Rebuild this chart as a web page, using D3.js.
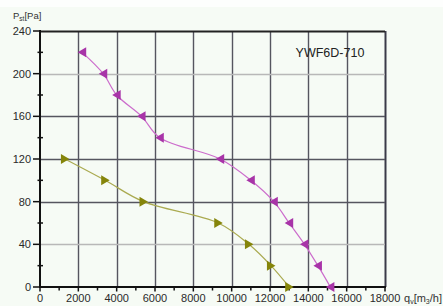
<!DOCTYPE html>
<html>
<head>
<meta charset="utf-8">
<script src="https://cdn.jsdelivr.net/npm/d3@7"></script>
<style>
  body { margin: 0; background: #f6fbf5; }
  svg { display: block; font-family: "Liberation Sans", Arial, sans-serif; }
</style>
</head>
<body>
<div id="chart"></div>
<script>
// values
var flowA = [2200, 3300, 4000, 5300, 6250, 9400, 11000, 12200, 13000, 13800, 14500, 15150];
var pressA = [220, 200, 180, 160, 140, 120, 100, 80, 60, 40, 20, 0];
var flowB = [1300, 3400, 5400, 9300, 10900, 12050, 13000];
var pressB = [120, 100, 80, 60, 40, 20, 0];
var xTicks = [0, 2000, 4000, 6000, 8000, 10000, 12000, 14000, 16000, 18000];
var yTicks = [0, 40, 80, 120, 160, 200, 240];
var modelName = "YWF6D-710";

var W = 443, H = 306;
var margin = {top: 31, right: 58, bottom: 19, left: 40};
var width = W - margin.left - margin.right;
var height = H - margin.top - margin.bottom;

var svg = d3.select("#chart").append("svg")
    .attr("width", W)
    .attr("height", H);

svg.append("rect").attr("width", W).attr("height", H).attr("fill", "#f6fbf5");
svg.append("rect").attr("width", W).attr("height", 7).attr("fill", "#fdfefd");

var x = d3.scaleLinear().domain([0, 18000]).range([0, width]);
var y = d3.scaleLinear().domain([0, 240]).range([height, 0]);

var g = svg.append("g")
    .attr("transform", "translate(" + margin.left + "," + margin.top + ")");

// grid
g.selectAll(".vgrid")
  .data(xTicks.slice(1))
  .join("line")
    .attr("x1", d => Math.round(x(d)) + 0.5)
    .attr("x2", d => Math.round(x(d)) + 0.5)
    .attr("y1", 0)
    .attr("y2", height)
    .attr("stroke", d => d == 18000 ? "#3a3a48" : "#55555f")
    .attr("stroke-width", d => d == 18000 ? 2 : 1.4);

g.selectAll(".hgrid")
  .data(yTicks.slice(1))
  .join("line")
    .attr("x1", 0)
    .attr("x2", width)
    .attr("y1", d => Math.round(y(d)) + 0.5)
    .attr("y2", d => Math.round(y(d)) + 0.5)
    .attr("stroke", function(d) {
      if (d == 40 || d == 200) return "#b8b8b8";
      if (d == 240) return "#222";
      return "#55555f";
    })
    .attr("stroke-width", d => d == 240 ? 2 : 1.4);

// axes
var xAxis = g.append("g").attr("transform", "translate(0," + height + ")");
xAxis.selectAll(".minor")
  .data(d3.range(1000, 18000, 2000))
  .join("line")
    .attr("x1", d => x(d)).attr("x2", d => x(d))
    .attr("y1", 0).attr("y2", 3.5)
    .attr("stroke", "#111").attr("stroke-width", 1.5);
xAxis.selectAll(".major")
  .data(xTicks)
  .join("line")
    .attr("x1", d => x(d)).attr("x2", d => x(d))
    .attr("y1", 0).attr("y2", 4.5)
    .attr("stroke", "#111").attr("stroke-width", 1.5);
xAxis.append("line")
    .attr("x1", -1).attr("x2", width + 1)
    .attr("stroke", "#111").attr("stroke-width", 2);
xAxis.selectAll("text")
  .data(xTicks)
  .join("text")
    .attr("x", d => x(d))
    .attr("y", 15)
    .attr("text-anchor", "middle")
    .attr("font-size", "11px")
    .attr("fill", "#2a2a2a")
    .text(d => d);

var yAxis = g.append("g");
yAxis.selectAll(".minor")
  .data(d3.range(20, 240, 40))
  .join("line")
    .attr("x1", -2.5).attr("x2", 3)
    .attr("y1", d => y(d)).attr("y2", d => y(d))
    .attr("stroke", "#111").attr("stroke-width", 1.5);
yAxis.selectAll(".major")
  .data(yTicks)
  .join("line")
    .attr("x1", -7).attr("x2", 0)
    .attr("y1", d => y(d)).attr("y2", d => y(d))
    .attr("stroke", "#111").attr("stroke-width", 1.5);
yAxis.append("line")
    .attr("y1", -1).attr("y2", height + 1)
    .attr("stroke", "#111").attr("stroke-width", 2);
yAxis.selectAll("text")
  .data(yTicks)
  .join("text")
    .attr("x", -9)
    .attr("y", d => y(d) + 4)
    .attr("text-anchor", "end")
    .attr("font-size", "11px")
    .attr("fill", "#2a2a2a")
    .text(d => d);

// axis titles
var yt = svg.append("text")
    .attr("x", 13).attr("y", 19)
    .attr("font-size", "9.5px").attr("fill", "#333");
yt.append("tspan").text("P");
yt.append("tspan").attr("font-size", "6.5px").attr("dy", 2).text("st");
yt.append("tspan").attr("dy", -2).text("[Pa]");

var xt = svg.append("text")
    .attr("x", 404).attr("y", 302)
    .attr("font-size", "11px").attr("fill", "#333");
xt.append("tspan").text("q");
xt.append("tspan").attr("font-size", "7px").attr("dy", 2).text("v");
xt.append("tspan").attr("dy", -2).text("[m");
xt.append("tspan").attr("font-size", "7px").attr("dy", 2).text("3");
xt.append("tspan").attr("dy", -2).text("/h]");

g.append("text")
    .attr("x", x(15130))
    .attr("y", y(216))
    .attr("text-anchor", "middle")
    .attr("font-size", "12.5px")
    .attr("fill", "#222")
    .text(modelName);

// curves
var seriesA = flowA.map((f, i) => ({q: f, p: pressA[i]}));
var seriesB = flowB.map((f, i) => ({q: f, p: pressB[i]}));

var line = d3.line()
    .x(d => x(d.q))
    .y(d => y(d.p))
    .curve(d3.curveCatmullRom.alpha(0.5));

function drawSeries(data, lineColour, markColour, pointLeft) {
  g.append("path")
    .datum(data)
    .attr("d", line)
    .attr("fill", "none")
    .attr("stroke", lineColour)
    .attr("stroke-width", 1.2);

  g.selectAll(null)
    .data(data)
    .join("path")
      .attr("transform", d => "translate(" + x(d.q) + "," + y(d.p) + ")")
      .attr("d", pointLeft ? "M-4.5,0L4,-5L4,5Z" : "M4.5,0L-4,-5L-4,5Z")
      .attr("fill", markColour);
}

drawSeries(seriesA, "#cc6ccc", "#a834a8", true);
drawSeries(seriesB, "#aaaa50", "#85850a", false);
</script>
</body>
</html>
